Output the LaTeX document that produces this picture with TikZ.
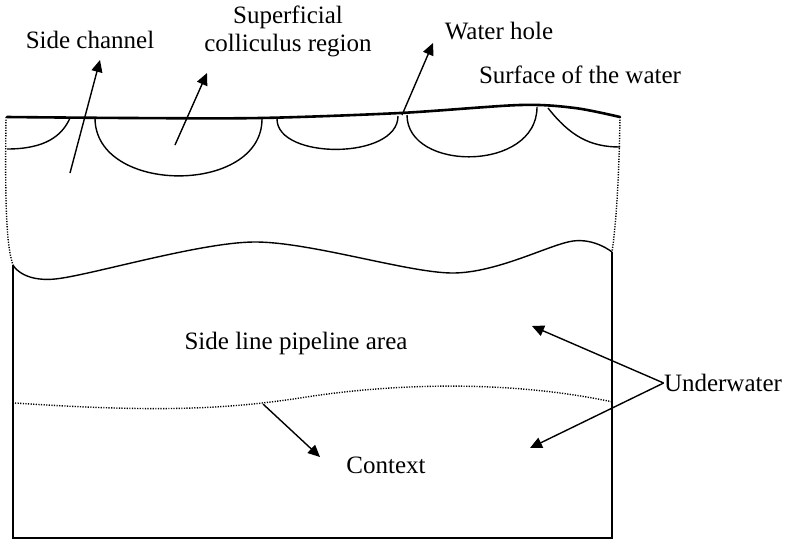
\documentclass[tikz,border=0pt]{standalone}
\usepackage{fontspec}
\setmainfont{Liberation Serif}
\usetikzlibrary{arrows.meta}
\tikzset{
  lbl/.style={inner sep=0pt, align=center, font=\fontsize{12.5}{14}\selectfont},
  surface/.style={line width=1.3pt, line cap=round},
  edge/.style={line width=0.7pt},
  bound/.style={line width=0.7pt, dash pattern=on 0.6pt off 0.7pt},
  arrow/.style={-{Triangle[length=6pt,width=5.5pt]}, line width=0.7pt}
}
\begin{document}
\begin{tikzpicture}[x=0.5pt,y=-0.5pt]
  \useasboundingbox (0,0) rectangle (791,543);

  % labels
  \node[lbl] (side) at (90,40) {Side channel};
  \node[lbl] (colli) at (288,31) {Superficial\\colliculus region};
  \node[lbl] (hole) at (499,31) {Water hole};
  \node[lbl] (surf) at (580,75) {Surface of the water};
  \node[lbl] (pipe) at (296,343) {Side line pipeline area};
  \node[lbl] (under) at (723,383) {Underwater};
  \node[lbl] (context) at (386,465) {Context};

  % surface of the water
  \draw[surface] plot[smooth] coordinates {(7,117) (130,118) (260,118) (400,113) (520,105) (575,108) (620,117)};

  % side walls and bottom
  \draw[bound] (6,117) .. controls (5,200) and (6,245) .. (13,265);
  \draw[bound] (620,117) .. controls (619,180) and (616,225) .. (612,252);
  \draw[edge] (13,265) -- (13,538) -- (612,538) -- (612,252);

  % arcs under the surface
  \draw[edge] (7,149) .. controls (45,149) and (62,136) .. (70,118);
  \draw[edge] (95,118) .. controls (95,195) and (262,195) .. (262,119);
  \draw[edge] (277,119) .. controls (277,160) and (398,160) .. (398,116);
  \draw[edge] (407,115) .. controls (407,172) and (537,172) .. (537,107);
  \draw[edge] (548,108) .. controls (570,136) and (590,147) .. (620,147);

  % pipeline and context boundaries
  \draw[edge] plot[smooth] coordinates {(13,265) (55,279) (253,242) (453,273) (573,241) (612,252)};
  \draw[bound] (15,403) .. controls (150,412) and (220,410) .. (300,398)
    .. controls (380,385) and (500,378) .. (613,402);

  % arrows
  \coordinate (sidetail) at (70,173);
  \coordinate (sidetip) at (100,60);
  \coordinate (collitail) at (175,145);
  \coordinate (collitip) at (207,73);
  \coordinate (holetail) at (402,115);
  \coordinate (holetip) at (433,43);
  \coordinate (contexttail) at (263,404);
  \coordinate (contexttip) at (320,457);
  \coordinate (pipetip) at (532,326);
  \coordinate (lowtip) at (530,448);

  \draw[arrow] (sidetail) -- (sidetip);
  \draw[arrow] (collitail) -- (collitip);
  \draw[arrow] (holetail) -- (holetip);
  \draw[arrow] (contexttail) -- (contexttip);
  \draw[arrow] (under.west) -- (pipetip);
  \draw[arrow] (under.west) -- (lowtip);
\end{tikzpicture}
\end{document}
